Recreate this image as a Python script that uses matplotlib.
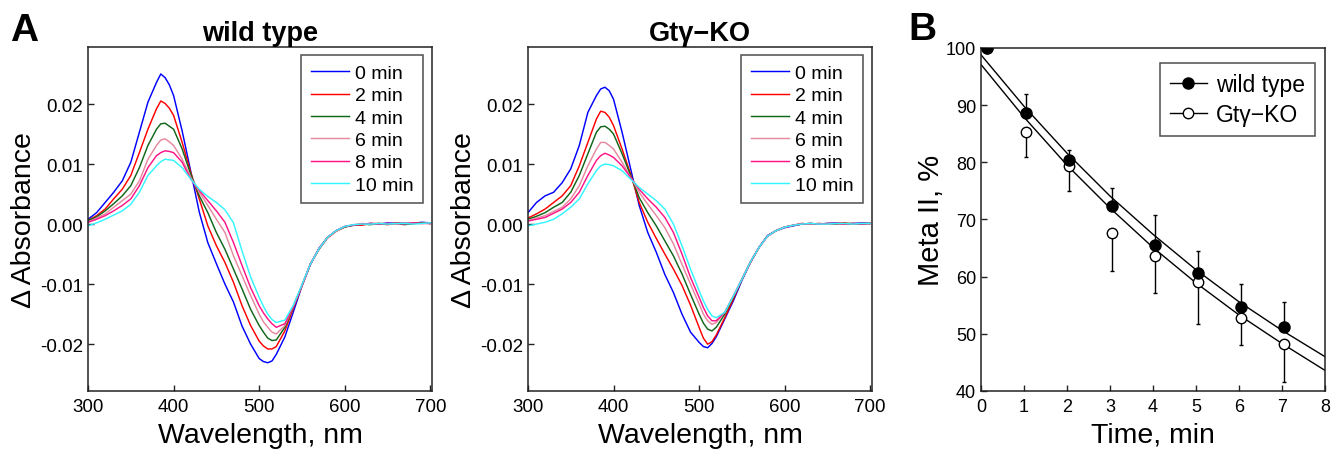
import matplotlib
matplotlib.use("Agg")
import matplotlib.pyplot as plt

plt.rcParams['font.family'] = ['Liberation Sans', 'DejaVu Sans']

# ---------------- data ----------------
wavelength = [300, 310, 320, 330, 340, 350, 360, 370, 380, 385, 390, 395, 400,
              410, 420, 430, 440, 450, 460, 470, 480, 490, 500, 505, 510, 515,
              520, 530, 540, 550, 560, 570, 580, 590, 600, 610, 620, 630, 640,
              650, 660, 670, 680, 690, 700]

time_labels = ['0 min', '2 min', '4 min', '6 min', '8 min', '10 min']
line_colors = ['#0000ff', '#ff0000', '#11661a', '#e68a9f', '#ff1487', '#33f5ff']

wt_0 = [0.0008, 0.0019, 0.0036, 0.0053, 0.0072, 0.0103, 0.0153, 0.0203, 0.0236, 0.0250, 0.0244, 0.0232, 0.0214,
        0.0155, 0.0088, 0.0020, -0.0031, -0.0066, -0.0100, -0.0130, -0.0170, -0.0200, -0.0224, -0.0229, -0.0231, -0.0228,
        -0.0217, -0.0188, -0.0146, -0.0103, -0.0067, -0.0040, -0.0022, -0.0011, -0.0004, -0.0002, 0.0000, 0.0001, 0.0000,
        0.0002, 0.0001, 0.0002, 0.0001, 0.0003, 0.0002]
wt_2 = [0.0006, 0.0014, 0.0025, 0.0042, 0.0058, 0.0081, 0.0119, 0.0158, 0.0192, 0.0205, 0.0201, 0.0193, 0.0181,
        0.0136, 0.0086, 0.0042, -0.0003, -0.0036, -0.0064, -0.0097, -0.0136, -0.0169, -0.0195, -0.0203, -0.0208, -0.0208,
        -0.0204, -0.0178, -0.0140, -0.0103, -0.0066, -0.0041, -0.0023, -0.0012, -0.0005, -0.0001, -0.0002, 0.0001, 0.0001,
        -0.0001, 0.0002, 0.0000, 0.0001, 0.0002, 0.0001]
wt_4 = [0.0006, 0.0012, 0.0022, 0.0034, 0.0047, 0.0064, 0.0094, 0.0131, 0.0158, 0.0167, 0.0168, 0.0163, 0.0158,
        0.0125, 0.0083, 0.0047, 0.0019, -0.0014, -0.0042, -0.0075, -0.0108, -0.0142, -0.0169, -0.0180, -0.0190, -0.0194,
        -0.0193, -0.0172, -0.0138, -0.0102, -0.0066, -0.0042, -0.0022, -0.0011, -0.0005, -0.0002, 0.0000, -0.0001, 0.0001,
        0.0000, 0.0001, -0.0001, 0.0001, 0.0002, 0.0001]
wt_6 = [0.0003, 0.0010, 0.0017, 0.0028, 0.0039, 0.0050, 0.0072, 0.0108, 0.0131, 0.0140, 0.0142, 0.0137, 0.0131,
        0.0108, 0.0078, 0.0053, 0.0031, 0.0008, -0.0014, -0.0053, -0.0086, -0.0119, -0.0150, -0.0163, -0.0172, -0.0180,
        -0.0183, -0.0169, -0.0137, -0.0102, -0.0066, -0.0041, -0.0022, -0.0012, -0.0004, -0.0001, 0.0001, 0.0000, 0.0001,
        0.0001, 0.0000, 0.0002, 0.0001, 0.0001, 0.0002]
wt_8 = [0.0003, 0.0008, 0.0014, 0.0022, 0.0031, 0.0042, 0.0064, 0.0094, 0.0114, 0.0119, 0.0122, 0.0121, 0.0119,
        0.0103, 0.0075, 0.0056, 0.0039, 0.0022, 0.0003, -0.0031, -0.0069, -0.0106, -0.0136, -0.0148, -0.0158, -0.0166,
        -0.0172, -0.0166, -0.0137, -0.0102, -0.0066, -0.0041, -0.0022, -0.0011, -0.0004, -0.0002, 0.0000, 0.0001, 0.0000,
        0.0001, 0.0001, 0.0000, 0.0002, 0.0001, 0.0001]
wt_10 = [-0.0003, 0.0002, 0.0008, 0.0015, 0.0022, 0.0033, 0.0053, 0.0081, 0.0097, 0.0104, 0.0108, 0.0107, 0.0106,
         0.0094, 0.0075, 0.0058, 0.0046, 0.0036, 0.0024, 0.0002, -0.0045, -0.0088, -0.0122, -0.0137, -0.0150, -0.0159,
         -0.0164, -0.0160, -0.0135, -0.0101, -0.0066, -0.0041, -0.0022, -0.0011, -0.0004, -0.0001, 0.0000, 0.0000, 0.0001,
         0.0000, 0.0001, 0.0001, 0.0000, 0.0001, 0.0002]

ko_0 = [0.0019, 0.0036, 0.0047, 0.0053, 0.0069, 0.0092, 0.0131, 0.0186, 0.0214, 0.0225, 0.0228, 0.0222, 0.0208,
        0.0153, 0.0092, 0.0031, -0.0014, -0.0047, -0.0084, -0.0114, -0.0150, -0.0180, -0.0197, -0.0204, -0.0206, -0.0199,
        -0.0188, -0.0158, -0.0128, -0.0094, -0.0064, -0.0039, -0.0019, -0.0011, -0.0006, -0.0003, 0.0000, 0.0001, 0.0000,
        0.0001, 0.0002, 0.0000, 0.0001, 0.0002, 0.0001]
ko_2 = [0.0010, 0.0017, 0.0025, 0.0036, 0.0047, 0.0064, 0.0097, 0.0136, 0.0175, 0.0188, 0.0186, 0.0178, 0.0164,
        0.0125, 0.0083, 0.0036, 0.0003, -0.0024, -0.0050, -0.0075, -0.0102, -0.0135, -0.0172, -0.0190, -0.0200, -0.0196,
        -0.0185, -0.0156, -0.0125, -0.0092, -0.0064, -0.0039, -0.0020, -0.0011, -0.0005, -0.0002, 0.0001, 0.0000, 0.0001,
        0.0000, 0.0001, 0.0002, 0.0000, 0.0001, 0.0001]
ko_4 = [0.0008, 0.0013, 0.0019, 0.0028, 0.0036, 0.0053, 0.0081, 0.0117, 0.0153, 0.0162, 0.0163, 0.0158, 0.0150,
        0.0117, 0.0081, 0.0044, 0.0019, -0.0003, -0.0028, -0.0053, -0.0083, -0.0117, -0.0150, -0.0165, -0.0175, -0.0178,
        -0.0172, -0.0150, -0.0122, -0.0092, -0.0063, -0.0039, -0.0020, -0.0011, -0.0005, -0.0002, 0.0000, 0.0001, 0.0000,
        0.0001, 0.0000, 0.0001, 0.0001, 0.0000, 0.0001]
ko_6 = [0.0006, 0.0010, 0.0014, 0.0021, 0.0028, 0.0042, 0.0064, 0.0097, 0.0125, 0.0136, 0.0136, 0.0131, 0.0125,
        0.0103, 0.0078, 0.0053, 0.0033, 0.0014, -0.0006, -0.0033, -0.0067, -0.0100, -0.0133, -0.0150, -0.0161, -0.0167,
        -0.0164, -0.0147, -0.0120, -0.0092, -0.0063, -0.0039, -0.0020, -0.0011, -0.0005, -0.0002, 0.0001, 0.0000, 0.0001,
        0.0000, 0.0001, 0.0000, 0.0001, 0.0001, 0.0000]
ko_8 = [0.0005, 0.0008, 0.0011, 0.0018, 0.0025, 0.0036, 0.0053, 0.0081, 0.0106, 0.0114, 0.0118, 0.0115, 0.0111,
        0.0097, 0.0078, 0.0058, 0.0042, 0.0028, 0.0011, -0.0014, -0.0050, -0.0089, -0.0122, -0.0139, -0.0153, -0.0161,
        -0.0161, -0.0147, -0.0120, -0.0092, -0.0063, -0.0039, -0.0020, -0.0011, -0.0005, -0.0002, 0.0000, 0.0001, 0.0000,
        0.0001, 0.0001, 0.0000, 0.0001, 0.0000, 0.0001]
ko_10 = [-0.0003, 0.0000, 0.0003, 0.0008, 0.0017, 0.0028, 0.0042, 0.0067, 0.0089, 0.0097, 0.0100, 0.0099, 0.0097,
         0.0089, 0.0075, 0.0061, 0.0050, 0.0039, 0.0025, 0.0000, -0.0036, -0.0075, -0.0111, -0.0128, -0.0142, -0.0153,
         -0.0156, -0.0147, -0.0120, -0.0092, -0.0063, -0.0039, -0.0020, -0.0011, -0.0005, -0.0002, 0.0000, 0.0001, 0.0000,
         0.0000, 0.0001, 0.0001, 0.0000, 0.0001, 0.0001]

wt_spectra = [wt_0, wt_2, wt_4, wt_6, wt_8, wt_10]
ko_spectra = [ko_0, ko_2, ko_4, ko_6, ko_8, ko_10]

a_yticks = [-0.02, -0.01, 0.0, 0.01, 0.02]
a_yticklabels = ['-0.02', '-0.01', '0.00', '0.01', '0.02']
a_xticks = [300, 400, 500, 600, 700]

# panel B
t_wt = [0.15, 1.05, 2.05, 3.05, 4.05, 5.05, 6.05, 7.05]
meta_wt = [100.0, 88.7, 80.4, 72.3, 65.6, 60.6, 54.7, 51.2]
err_wt = [0.0, 3.2, 1.7, 3.2, 5.2, 3.9, 4.1, 4.4]
t_ko = [0.15, 1.05, 2.05, 3.05, 4.05, 5.05, 6.05, 7.05]
meta_ko = [100.0, 85.3, 79.4, 67.6, 63.6, 59.0, 52.7, 48.2]
err_ko = [0.0, 4.3, 4.5, 6.6, 6.4, 7.3, 4.6, 6.7]
fit_t = [0, 1, 2, 3, 4, 5, 6, 7, 8]
fit_wt = [98.8, 89.8, 81.6, 74.1, 67.4, 61.2, 55.6, 50.6, 46.0]
fit_ko = [97.1, 87.9, 79.5, 72.0, 65.1, 58.9, 53.3, 48.3, 43.6]

# ---------------- figure ----------------
fig = plt.figure(figsize=(13.4, 4.56), dpi=100)

def style_axes(ax, size):
    for s in ax.spines.values():
        s.set_linewidth(1.1)
        s.set_color('#222222')
    ax.tick_params(direction='in', length=4, width=1.0, labelsize=size,
                   colors='#222222', labelcolor='black')
    ax.tick_params(axis='y', pad=3.5)
    ax.tick_params(axis='x', pad=5)

def spectra_panel(rect, spectra, title):
    ax = fig.add_axes(rect)
    for vals, lab, c in zip(spectra, time_labels, line_colors):
        ax.plot(wavelength, vals, color=c, lw=1.05, label=lab)
    ax.set_xlim(300, 702)
    ax.set_ylim(-0.0278, 0.0295)
    ax.set_xticks(a_xticks)
    ax.set_yticks(a_yticks)
    ax.set_yticklabels(a_yticklabels)
    style_axes(ax, 13.5)
    ax.set_xlabel('Wavelength, nm', fontsize=20.5, labelpad=5)
    ax.set_ylabel('\u0394 Absorbance', fontsize=20.5, labelpad=2)
    ax.set_title(title, fontsize=19.5, fontweight='bold', pad=5)
    leg = ax.legend(loc='upper right', fontsize=14, frameon=True, fancybox=False,
                    edgecolor='#222222', handlelength=1.95, handletextpad=0.3,
                    labelspacing=0.24, borderpad=0.5, borderaxespad=0.0,
                    bbox_to_anchor=(0.974, 0.977))
    leg.get_frame().set_linewidth(1.1)
    return ax

ax1 = spectra_panel([0.0657, 0.1404, 0.2567, 0.7544], wt_spectra, 'wild type')
ax2 = spectra_panel([0.3940, 0.1404, 0.2567, 0.7544], ko_spectra, 'Gt\u03b3\u2212KO')

ax3 = fig.add_axes([0.7321, 0.1404, 0.2567, 0.7522])
ax3.plot(fit_t, fit_wt, color='black', lw=1.0)
ax3.plot(fit_t, fit_ko, color='black', lw=1.0)
ax3.errorbar(t_ko, meta_ko, yerr=[err_ko, [0] * len(err_ko)], fmt='none',
             ecolor='black', elinewidth=1.0, capsize=1.5, capthick=1.0)
ax3.errorbar(t_wt, meta_wt, yerr=[[0] * len(err_wt), err_wt], fmt='none',
             ecolor='black', elinewidth=1.0, capsize=1.5, capthick=1.0)
ax3.plot(t_ko, meta_ko, 'o', ms=7.5, mfc='white', mec='black', mew=1.0, zorder=3)
ax3.plot(t_wt, meta_wt, 'o', ms=8, mfc='black', mec='black', zorder=4)
ax3.set_xlim(0, 8)
ax3.set_ylim(40, 100)
ax3.set_xticks([0, 1, 2, 3, 4, 5, 6, 7, 8])
ax3.set_yticks([40, 50, 60, 70, 80, 90, 100])
style_axes(ax3, 13)
ax3.set_xlabel('Time, min', fontsize=20.5, labelpad=5)
ax3.set_ylabel('Meta II, %', fontsize=21, labelpad=1)
h_wt, = ax3.plot([], [], '-o', color='black', ms=8, mfc='black', lw=1.0)
h_ko, = ax3.plot([], [], '-o', color='black', ms=7.5, mfc='white', mew=1.0, lw=1.0)
leg3 = ax3.legend([h_wt, h_ko], ['wild type', 'Gt\u03b3\u2212KO'], loc='upper right',
                  fontsize=16.5, frameon=True, fancybox=False, edgecolor='#222222',
                  handlelength=1.6, handletextpad=0.4, labelspacing=0.28,
                  borderpad=0.45, borderaxespad=0.0, bbox_to_anchor=(0.971, 0.956))
leg3.get_frame().set_linewidth(1.1)

fig.text(0.0075, 0.910, 'A', fontsize=28, fontweight='bold', va='baseline', ha='left')
fig.text(0.6776, 0.912, 'B', fontsize=28, fontweight='bold', va='baseline', ha='left')

fig.savefig('out.png', dpi=100)
